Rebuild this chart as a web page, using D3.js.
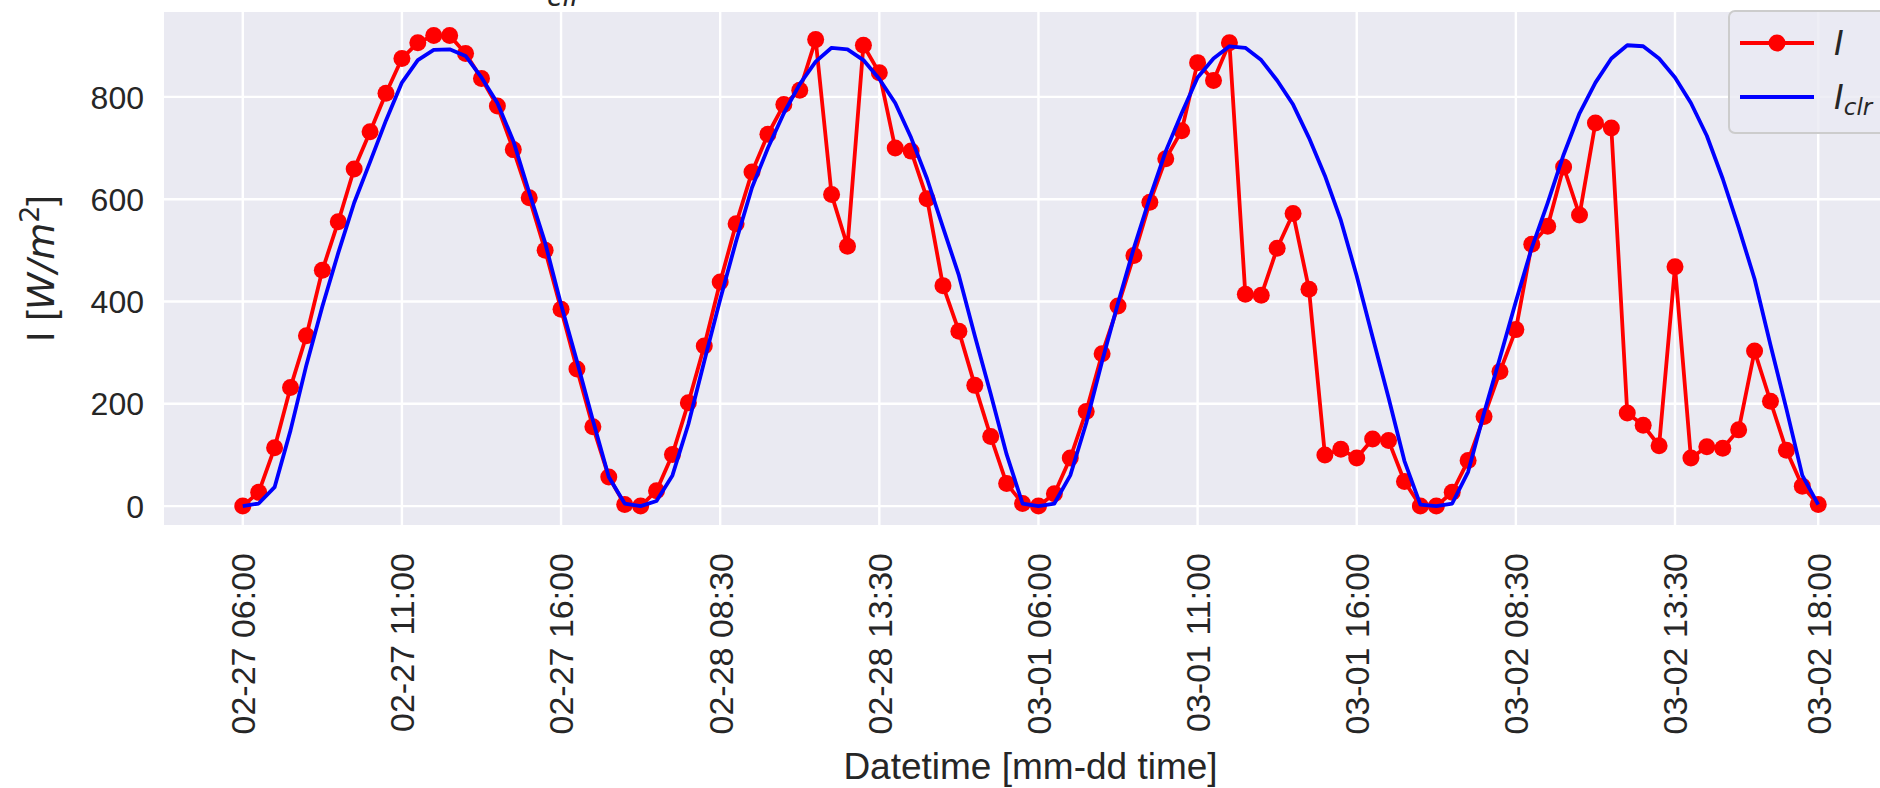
<!DOCTYPE html>
<html>
<head>
<meta charset="utf-8">
<script src="https://cdn.jsdelivr.net/npm/d3@7"></script>
<style>
  html, body { margin: 0; padding: 0; background: #ffffff; }
  svg { display: block; }
</style>
</head>
<body>
<svg id="chart" width="1880" height="788"></svg>
<script>
// ---------------- data ----------------
// one point every 30 minutes, 06:00-18:00, four days (night hours removed)
const seriesNames = ["I", "I_clr"];
const seriesColors = ["#ff0000", "#0000ff"];

// measured irradiance I [W/m^2]
const irradiance = [
  // 02-27
  0, 27, 114, 232, 333, 461, 556, 659, 732, 807, 875, 906, 920, 920, 885, 836, 782, 697, 603, 500, 385, 268, 155, 57, 3,
  // 02-28
  0, 30, 101, 202, 313, 438, 552, 653, 727, 785, 813, 912, 609, 508, 901, 847, 700, 694, 601, 431, 342, 236, 136, 44, 5,
  // 03-01
  0, 24, 94, 185, 298, 391, 490, 594, 679, 734, 867, 832, 906, 414, 412, 504, 572, 424, 100, 111, 94, 131, 128, 48, 0,
  // 03-02
  0, 27, 89, 175, 263, 345, 512, 547, 663, 569, 749, 739, 182, 158, 118, 468, 94, 116, 113, 149, 303, 205, 109, 39, 3
];

// clear-sky irradiance I_clr [W/m^2]
const clearSky = [
  // 02-27
  0, 5, 37, 148, 276, 390, 495, 593, 673, 754, 828, 872, 892, 893, 880, 838, 788, 714, 613, 515, 394, 283, 168, 57, 5,
  // 02-28
  0, 10, 60, 160, 283, 404, 518, 623, 700, 768, 825, 869, 896, 893, 872, 835, 788, 720, 640, 545, 451, 333, 219, 101, 5,
  // 03-01
  0, 5, 60, 162, 283, 397, 505, 603, 694, 768, 838, 875, 899, 896, 872, 832, 785, 720, 646, 559, 450, 330, 212, 88, 3,
  // 03-02
  0, 5, 67, 182, 290, 400, 505, 593, 687, 768, 828, 875, 901, 899, 875, 838, 788, 724, 640, 545, 444, 315, 190, 60, 3
];

const xTickIndex  = [0, 10, 20, 30, 40, 50, 60, 70, 80, 90, 99];
const xTickLabels = ["02-27 06:00", "02-27 11:00", "02-27 16:00", "02-28 08:30", "02-28 13:30",
                     "03-01 06:00", "03-01 11:00", "03-01 16:00", "03-02 08:30", "03-02 13:30", "03-02 18:00"];
const yTicks = [0, 200, 400, 600, 800];

// ---------------- layout ----------------
const svg = d3.select("#chart");
const W = 1880, H = 788;
const ax = { left: 164, right: 1897, top: 12, bottom: 525 };

svg.append("rect").attr("width", W).attr("height", H).attr("fill", "#ffffff");

const n = irradiance.length;
const x = d3.scaleLinear().domain([-0.05 * (n - 1), (n - 1) * 1.05]).range([ax.left, ax.right]);
const y = d3.scaleLinear().domain([-37, 966]).range([ax.bottom, ax.top]);

const textColor = "#262626";
const sans = "'Liberation Sans', Arial, Helvetica, sans-serif";
const mathFont = "'DejaVu Sans', sans-serif";

// axes background
svg.append("rect")
  .attr("x", ax.left).attr("y", ax.top)
  .attr("width", ax.right - ax.left).attr("height", ax.bottom - ax.top)
  .attr("fill", "#eaeaf2");

// grid
const grid = svg.append("g").attr("stroke", "#ffffff").attr("stroke-width", 2.4);
grid.selectAll("line.v").data(xTickIndex).join("line")
  .attr("x1", d => x(d)).attr("x2", d => x(d))
  .attr("y1", ax.top).attr("y2", ax.bottom);
grid.selectAll("line.h").data(yTicks).join("line")
  .attr("x1", ax.left).attr("x2", ax.right)
  .attr("y1", d => y(d)).attr("y2", d => y(d));

// clip
svg.append("clipPath").attr("id", "plotclip").append("rect")
  .attr("x", ax.left).attr("y", ax.top)
  .attr("width", ax.right - ax.left).attr("height", ax.bottom - ax.top);
const plot = svg.append("g").attr("clip-path", "url(#plotclip)");

const line = d3.line().x((d, i) => x(i)).y(d => y(d));

// measured series with markers
plot.append("path").datum(irradiance)
  .attr("d", line).attr("fill", "none")
  .attr("stroke", seriesColors[0]).attr("stroke-width", 3.8)
  .attr("stroke-linejoin", "round");
plot.selectAll("circle.pt").data(irradiance).join("circle")
  .attr("class", "pt")
  .attr("cx", (d, i) => x(i)).attr("cy", d => y(d))
  .attr("r", 8.5).attr("fill", seriesColors[0]);

// clear-sky series
plot.append("path").datum(clearSky)
  .attr("d", line).attr("fill", "none")
  .attr("stroke", seriesColors[1]).attr("stroke-width", 3.8)
  .attr("stroke-linejoin", "round");

// y axis tick labels
const yAxis = d3.axisLeft(y).tickValues(yTicks).tickSize(0).tickPadding(0);
const gy = svg.append("g").attr("transform", `translate(${ax.left - 20},0)`).call(yAxis);
gy.select(".domain").remove();
gy.selectAll("text")
  .attr("font-family", sans).attr("font-size", 32).attr("fill", textColor)
  .attr("dy", "0.35em");

// x axis tick labels (rotated)
const xAxis = d3.axisBottom(x).tickValues(xTickIndex)
  .tickFormat((d, i) => xTickLabels[i]).tickSize(0).tickPadding(0);
const gx = svg.append("g").attr("transform", `translate(0,${ax.bottom + 28})`).call(xAxis);
gx.select(".domain").remove();
gx.selectAll("text")
  .attr("font-family", sans).attr("font-size", 34).attr("fill", textColor)
  .attr("transform", "rotate(-90)")
  .attr("text-anchor", "end")
  .attr("x", 0).attr("y", 0).attr("dy", "0.35em");

// axis labels
svg.append("text")
  .attr("x", (ax.left + ax.right) / 2).attr("y", 779)
  .attr("text-anchor", "middle")
  .attr("font-family", sans).attr("font-size", 37).attr("fill", textColor)
  .text("Datetime [mm-dd time]");

const yl = svg.append("text")
  .attr("transform", `translate(54,${(ax.top + ax.bottom) / 2}) rotate(-90)`)
  .attr("text-anchor", "middle")
  .attr("font-family", sans).attr("font-size", 38).attr("fill", textColor);
yl.append("tspan").text("I [");
yl.append("tspan").attr("font-family", mathFont).attr("font-style", "italic").text("W/m");
yl.append("tspan").attr("font-family", mathFont).attr("font-size", 27).attr("dy", "-0.55em").text("2");
yl.append("tspan").attr("dy", "0.4em").text("]");

// partially visible title (cut by the top of the picture in the original)
svg.append("text")
  .attr("x", 547).attr("y", 6)
  .attr("font-family", mathFont).attr("font-style", "italic")
  .attr("font-size", 28).attr("fill", textColor)
  .text("clr");

// legend
const lg = svg.append("g");
lg.append("rect")
  .attr("x", 1729).attr("y", 11).attr("width", 200).attr("height", 122).attr("rx", 6)
  .attr("fill", "#eaeaf2").attr("fill-opacity", 0.8)
  .attr("stroke", "#cccccc").attr("stroke-width", 2);
const legendRows = lg.selectAll("g.row").data(seriesNames).join("g")
  .attr("transform", (d, i) => `translate(1740,${43 + i * 54})`);
legendRows.append("line")
  .attr("x1", 0).attr("x2", 74).attr("y1", 0).attr("y2", 0)
  .attr("stroke", (d, i) => seriesColors[i]).attr("stroke-width", 3.8);
legendRows.filter((d, i) => i === 0).append("circle")
  .attr("cx", 37).attr("cy", 0).attr("r", 8.5).attr("fill", seriesColors[0]);
legendRows.each(function(d) {
  const t = d3.select(this).append("text")
    .attr("x", 94).attr("y", 0).attr("dy", "0.35em")
    .attr("font-family", mathFont).attr("font-style", "italic")
    .attr("font-size", 33).attr("fill", textColor);
  const parts = d.split("_");
  t.append("tspan").text(parts[0]);
  if (parts[1]) t.append("tspan").attr("font-size", 23).attr("dy", "0.3em").text(parts[1]);
});
</script>
</body>
</html>
